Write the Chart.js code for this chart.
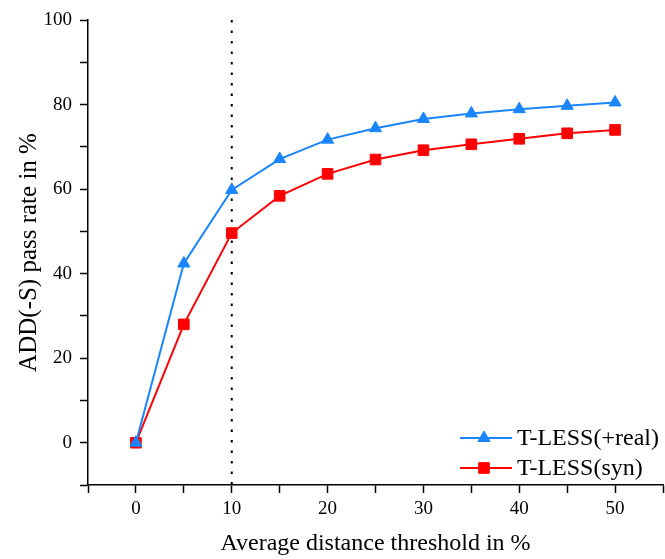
<!DOCTYPE html>
<html>
<head>
<meta charset="utf-8">
<script src="https://cdn.jsdelivr.net/npm/chart.js@4.4.0/dist/chart.umd.min.js"></script>
<style>
    html, body { margin: 0; padding: 0; background: #fff; overflow: hidden; }
    canvas { display: block; }
</style>
</head>
<body>
<canvas id="passChart" width="665" height="559"></canvas>
<script>
// Data
const thresholds = [0, 5, 10, 15, 20, 25, 30, 35, 40, 45, 50];
const realPlus = [0, 42.4, 59.8, 67.1, 71.7, 74.4, 76.6, 77.9, 78.9, 79.7, 80.5];
const synOnly = [0, 28.0, 49.6, 58.4, 63.6, 67.0, 69.2, 70.6, 71.9, 73.2, 74.0];
const seriesNames = ['T-LESS(+real)', 'T-LESS(syn)'];
const refLineX = 10;
const yTickLabels = [0, 20, 40, 60, 80, 100];
const xTickLabels = [0, 10, 20, 30, 40, 50];

const BLUE = '#1a85ff';
const RED = '#ff0000';
const FONT = '"Liberation Serif", "Times New Roman", serif';

const toPoints = (xs, ys) => xs.map((x, i) => ({ x: x, y: ys[i] }));

// Legend drawn inside the plot area, bottom right (line + marker + text)
const insideLegend = {
    id: 'insideLegend',
    afterDraw(chart) {
        const ctx = chart.ctx;
        const area = chart.chartArea;
        ctx.save();
        [0, 1].forEach(i => {
            const ds = chart.data.datasets[i];
            const y = area.bottom - 47 + i * 30;
            const x0 = 460;
            ctx.strokeStyle = ds.borderColor;
            ctx.lineWidth = 2;
            ctx.beginPath();
            ctx.moveTo(x0, y);
            ctx.lineTo(x0 + 52, y);
            ctx.stroke();
            ctx.fillStyle = ds.backgroundColor;
            ctx.lineWidth = 1;
            Chart.helpers.drawPoint(ctx, {
                pointStyle: ds.pointStyle,
                radius: ds.pointRadius,
                borderWidth: 1
            }, x0 + 24, y);
            ctx.fillStyle = '#000';
            ctx.font = '24px ' + FONT;
            ctx.textBaseline = 'middle';
            ctx.textAlign = 'left';
            ctx.fillText(ds.label, x0 + 57, y + 1);
        });
        ctx.restore();
    }
};

const ctx = document.getElementById('passChart').getContext('2d');
new Chart(ctx, {
    type: 'line',
    data: {
        datasets: [{
            label: seriesNames[0],
            data: toPoints(thresholds, realPlus),
            borderColor: BLUE,
            backgroundColor: BLUE,
            borderWidth: 2,
            pointStyle: 'triangle',
            pointRadius: 7,
            pointBorderWidth: 1,
            tension: 0
        }, {
            label: seriesNames[1],
            data: toPoints(thresholds, synOnly),
            borderColor: RED,
            backgroundColor: RED,
            borderWidth: 2,
            pointStyle: 'rect',
            pointRadius: 7.5,
            pointBorderWidth: 1,
            tension: 0
        }, {
            label: 'ref',
            data: [{ x: refLineX, y: 100 }, { x: refLineX, y: -10 }],
            borderColor: '#000',
            borderWidth: 2,
            borderDash: [2.5, 8],
            pointRadius: 0,
            order: 5
        }]
    },
    options: {
        responsive: false,
        animation: false,
        layout: { autoPadding: false, padding: { top: 20, right: 2, left: 0, bottom: 0 } },
        plugins: {
            legend: { display: false },
            tooltip: { enabled: false }
        },
        scales: {
            x: {
                type: 'linear',
                min: -5,
                max: 55,
                afterFit: s => {
                    s.height = 74;
                    s.paddingLeft = 0;
                    s.paddingRight = 0;
                },
                border: { color: '#000', width: 1.5 },
                grid: { drawOnChartArea: false, tickLength: 8, color: '#000', tickColor: '#000', tickWidth: 1.5 },
                ticks: {
                    stepSize: 5,
                    color: '#000',
                    padding: 5,
                    font: { family: FONT, size: 19 },
                    maxRotation: 0,
                    autoSkip: false,
                    callback: v => xTickLabels.includes(v) ? String(v) : ''
                },
                title: {
                    display: true,
                    text: 'Average distance threshold in %',
                    color: '#000',
                    font: { family: FONT, size: 24 },
                    padding: { top: 0, bottom: 1 }
                }
            },
            y: {
                min: -10,
                max: 100,
                afterFit: s => { s.width = 88; },
                border: { color: '#000', width: 1.5 },
                grid: { drawOnChartArea: false, tickLength: 8, color: '#000', tickColor: '#000', tickWidth: 1.5 },
                ticks: {
                    stepSize: 10,
                    color: '#000',
                    padding: 8,
                    font: { family: FONT, size: 19 },
                    autoSkip: false,
                    callback: v => yTickLabels.includes(v) ? String(v) : ''
                },
                title: {
                    display: true,
                    text: 'ADD(-S) pass rate in %',
                    color: '#000',
                    font: { family: FONT, size: 25 },
                    padding: { top: 14, bottom: 0 }
                }
            }
        }
    },
    plugins: [insideLegend]
});
</script>
</body>
</html>
